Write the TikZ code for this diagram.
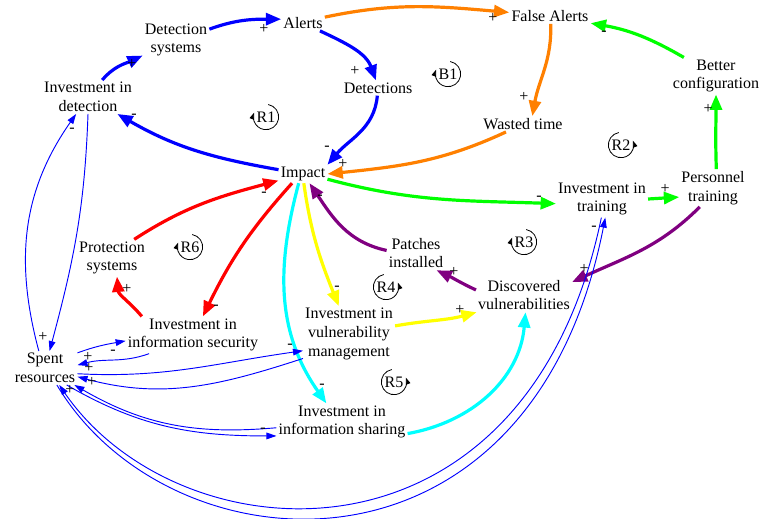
\documentclass[tikz,border=0pt]{standalone}
\usepackage{fontspec}
\setmainfont{Liberation Serif}
\newfontfamily\tnr{Liberation Serif}
\usetikzlibrary{arrows.meta}
\definecolor{cblue}{RGB}{0,0,255}
\definecolor{corange}{RGB}{255,128,0}
\definecolor{cgreen}{RGB}{0,255,0}
\definecolor{cpurple}{RGB}{128,0,128}
\definecolor{cyellow}{RGB}{255,255,0}
\definecolor{ccyan}{RGB}{0,255,255}
\definecolor{cred}{RGB}{255,0,0}
\tikzset{
  var/.style={align=center, inner sep=1.5pt, font=\tnr\fontsize{12}{14}\selectfont},
  sg/.style={inner sep=0pt, font=\tnr\fontsize{12}{14}\selectfont},
  lk/.style={line width=2.4pt, -{Triangle[length=11.5pt,width=9pt]}},
  tl/.style={line width=0.7pt, draw=cblue, -{Triangle[length=7.5pt,width=5pt]}},
  lpl/.style={draw, line width=0.6pt, -{Triangle[length=5pt,width=3.5pt]}},
}
\begin{document}
\begin{tikzpicture}[x=0.75pt,y=0.75pt]
\useasboundingbox (0,0) rectangle (762,-518);
% variables
\node[var] (dsys) at (176,-40) {Detection\\systems};
\node[var] (alerts) at (303,-23) {Alerts};
\node[var] (fa) at (550,-16) {False Alerts};
\node[var] (idet) at (88,-97) {Investment in\\detection};
\node[var] (dets) at (378,-88) {Detections};
\node[var] (bc) at (716,-76) {Better\\configuration};
\node[var] (wasted) at (523,-124) {Wasted time};
\node[var] (impact) at (303,-174) {Impact};
\node[var] (itrain) at (602,-199) {Investment in\\training};
\node[var] (ptrain) at (713,-188) {Personnel\\training};
\node[var] (patch) at (416,-253) {Patches\\installed};
\node[var] (dvuln) at (524,-295) {Discovered\\vulnerabilities};
\node[var] (psys) at (112,-258) {Protection\\systems};
\node[var] (iis) at (193,-335) {Investment in\\information security};
\node[var] (ivm) at (349,-334) {Investment in\\vulnerability\\management};
\node[var] (spent) at (45,-368) {Spent\\resources};
\node[var] (iish) at (342,-422) {Investment in\\information sharing};
% loop labels
\node[var] (r1) at (266,-117) {R1};
\node[var] (b1) at (448,-74) {B1};
\node[var] (r2) at (621,-145) {R2};
\node[var] (r3) at (524,-242) {R3};
\node[var] (r4) at (386,-287) {R4};
\node[var] (r5) at (394,-382) {R5};
\node[var] (r6) at (190,-247) {R6};
\foreach \n in {r1,b1,r3,r6}{
  \draw[lpl] ([shift={(80:9.5pt)}]\n.center) arc[start angle=80,end angle=-200,radius=9.5pt];
}
\foreach \n in {r2,r4,r5}{
  \draw[lpl] ([shift={(100:9.5pt)}]\n.center) arc[start angle=100,end angle=380,radius=9.5pt];
}
% blue loop
\draw[lk,cblue] (idet.50) to[out=50,in=205] (dsys.205);
\draw[lk,cblue] (dsys.18) to[out=20,in=180] (alerts.170);
\draw[lk,cblue] (alerts.-25) to[out=-25,in=110] (dets.105);
\draw[lk,cblue] (dets.-95) to[out=-95,in=50] (impact.north east);
\draw[lk,cblue] (impact.170) to[out=170,in=-30] (idet.-30);
% orange
\draw[lk,corange] (alerts.15) to[out=12,in=175] (fa.175);
\draw[lk,corange] (fa.-85) to[out=-88,in=80] ([xshift=7pt]wasted.north);
\draw[lk,corange] (wasted.205) to[out=205,in=6] (impact.east);
% green
\draw[lk,cgreen] (bc.150) to[out=150,in=-10] (fa.-10);
\draw[lk,cgreen] (ptrain.80) to[out=92,in=-90] (bc.-90);
\draw[lk,cgreen] (impact.-12) to[out=-15,in=178] ([yshift=-3.5pt]itrain.west);
\draw[lk,cgreen] (itrain.east) -- (ptrain.195);
% purple
\draw[lk,cpurple] (ptrain.-125) to[out=225,in=25] (dvuln.15);
\draw[lk,cpurple] (dvuln.174) to[out=155,in=-25] (patch.-40);
\draw[lk,cpurple] (patch.175) to[out=168,in=-56] (impact.-55);
% yellow
\draw[lk,cyellow] (impact.-85) to[out=-82,in=112] (ivm.110);
\draw[lk,cyellow] (ivm.10) to[out=10,in=195] (dvuln.200);
% cyan
\draw[lk,ccyan] (impact.-115) to[out=-105,in=125] (iish.130);
\draw[lk,ccyan] (iish.-10) to[out=10,in=-95] (dvuln.-85);
% red
\draw[lk,cred] (impact.-140) to[out=228,in=64] (iis.62);
\draw[lk,cred] (iis.160) to[out=130,in=-85] (psys.-75);
\draw[lk,cred] (psys.40) to[out=33,in=195] (impact.195);
% thin blue
\draw[tl] (idet.-90) to[out=-92,in=75] (spent.75);
\draw[tl] (spent.110) to[out=105,in=-125] (idet.-125);
\draw[tl] (spent.25) to[out=20,in=190] (iis.185);
\draw[tl] (iis.203) to[out=200,in=15] (spent.5);
\draw[tl] (spent.-10) to[out=-3,in=188] (ivm.200);
\draw[tl] (ivm.208) to[out=198,in=-15] (spent.-15);
\draw[tl] (iish.185) to[out=185,in=-30] (spent.-30);
\draw[tl] (spent.-38) to[out=-30,in=180] (iish.192);
\draw[tl] (spent.-55) .. controls +(112,-188) and +(-75,-382) .. (itrain.-80);
\draw[tl] (itrain.-92) .. controls +(-76,-367) and +(119,-173) .. (spent.-50);
% polarity signs
\node[sg] (s1) at (132,-64) {+};
\node[sg] (s2) at (264,-29) {+};
\node[sg] (s3) at (355,-71) {+};
\node[sg] (s4) at (327,-148) {-};
\node[sg] (s5) at (134,-116) {-};
\node[sg] (s6) at (493,-18) {+};
\node[sg] (s7) at (524,-97) {+};
\node[sg] (s8) at (343,-164) {+};
\node[sg] (s9) at (604,-33) {-};
\node[sg] (s10) at (708,-109) {+};
\node[sg] (s11) at (539,-198) {-};
\node[sg] (s12) at (665,-189) {+};
\node[sg] (s13) at (584,-269) {+};
\node[sg] (s14) at (454,-272) {+};
\node[sg] (s15) at (320,-197) {-};
\node[sg] (s16) at (337,-288) {-};
\node[sg] (s17) at (460,-310) {+};
\node[sg] (s18) at (322,-386) {-};
\node[sg] (s20) at (216,-307) {-};
\node[sg] (s21) at (127,-289) {+};
\node[sg] (s22) at (264,-194) {-};
\node[sg] (s23) at (43,-337) {+};
\node[sg] (s24) at (72,-130) {-};
\node[sg] (s25) at (113,-352) {-};
\node[sg] (s26) at (88,-357) {+};
\node[sg] (s27) at (290,-346) {-};
\node[sg] (s28) at (89,-368) {+};
\node[sg] (s29) at (92,-382) {+};
\node[sg] (s30) at (263,-430) {-};
\node[sg] (s31) at (70,-390) {+};
\node[sg] (s32) at (594,-228) {-};
\end{tikzpicture}
\end{document}
